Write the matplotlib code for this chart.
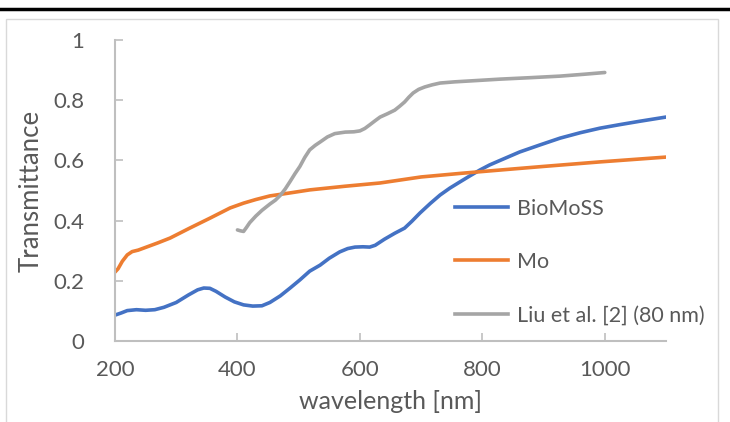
import matplotlib
matplotlib.use("Agg")
import matplotlib.pyplot as plt
from matplotlib.lines import Line2D
from matplotlib.patches import Rectangle

plt.rcParams['font.family'] = ['Lato', 'DejaVu Sans']

bio_wl = [200, 210, 220, 235, 250, 265, 280, 300, 320, 335, 345, 355, 365, 380, 395, 410, 425, 440, 453,
          470, 486, 502, 518, 535, 550, 567, 580, 592, 605, 616, 625, 640, 657, 673, 685, 698, 715, 731, 747,
          763, 780, 796, 812, 829, 861, 895, 927, 960, 992, 1025, 1057, 1100]
bio_t = [0.086, 0.093, 0.101, 0.104, 0.102, 0.104, 0.112, 0.128, 0.153, 0.170, 0.176, 0.175, 0.165, 0.146,
         0.130, 0.120, 0.116, 0.117, 0.128, 0.150, 0.176, 0.203, 0.232, 0.252, 0.275, 0.296, 0.307, 0.312,
         0.313, 0.312, 0.318, 0.338, 0.358, 0.375, 0.398, 0.425, 0.457, 0.485, 0.508, 0.528, 0.549, 0.568,
         0.585, 0.600, 0.628, 0.652, 0.674, 0.692, 0.707, 0.719, 0.730, 0.744]

mo_wl = [200, 205, 212, 220, 228, 238, 250, 270, 290, 322, 355, 388, 410, 430, 453, 486, 518, 575, 633,
         700, 765, 829, 900, 992, 1100]
mo_t = [0.229, 0.240, 0.265, 0.286, 0.297, 0.302, 0.311, 0.326, 0.342, 0.375, 0.408, 0.442, 0.458, 0.470,
        0.482, 0.492, 0.502, 0.514, 0.525, 0.545, 0.557, 0.568, 0.580, 0.595, 0.611]

liu_wl = [400, 405, 410, 415, 420, 430, 440, 453, 462, 470, 478, 486, 494, 502, 510, 518, 527, 535, 547,
          559, 576, 590, 600, 608, 616, 625, 633, 645, 657, 665, 673, 680, 687, 696, 706, 718, 731, 755, 780,
          829, 880, 927, 965, 1000]
liu_t = [0.369, 0.366, 0.364, 0.378, 0.393, 0.415, 0.434, 0.455, 0.468, 0.484, 0.505, 0.530, 0.556, 0.580,
         0.610, 0.635, 0.650, 0.661, 0.678, 0.689, 0.694, 0.695, 0.698, 0.706, 0.718, 0.732, 0.744, 0.755,
         0.767, 0.780, 0.794, 0.810, 0.824, 0.836, 0.844, 0.851, 0.857, 0.861, 0.864, 0.870, 0.875, 0.880,
         0.886, 0.892]

series_names = ["BioMoSS", "Mo", "Liu et al. [2] (80 nm)"]
colors = ["#4472C4", "#ED7D31", "#A5A5A5"]
x_ticks = [200, 400, 600, 800, 1000]
y_ticks = [0, 0.2, 0.4, 0.6, 0.8, 1]
y_labels = ["0", "0.2", "0.4", "0.6", "0.8", "1"]

W, H = 730, 422
fig = plt.figure(figsize=(W / 100, H / 100), dpi=100)
ax = fig.add_axes([115 / W, 1 - 341 / H, (666 - 115) / W, (341 - 40) / H])

for (wl, t), name, c in zip([(bio_wl, bio_t), (mo_wl, mo_t), (liu_wl, liu_t)], series_names, colors):
    ax.plot(wl, t, color=c, lw=2.6, solid_capstyle='round', solid_joinstyle='round', label=name)

ax.set_xlim(200, 1100)
ax.set_ylim(0, 1)
ax.set_xticks(x_ticks)
ax.set_yticks(y_ticks)
ax.set_yticklabels(y_labels)
grey = "#BFBFBF"
txt = "#595959"
for s in ['top', 'right']:
    ax.spines[s].set_visible(False)
for s in ['left', 'bottom']:
    ax.spines[s].set_color(grey)
    ax.spines[s].set_linewidth(1.5)
ax.tick_params(axis='both', direction='in', length=6, width=1.2, color=grey, labelcolor=txt, labelsize=16)
ax.tick_params(axis='x', pad=14)
ax.tick_params(axis='y', pad=22)
ax.set_xlabel("wavelength [nm]", fontsize=18, color=txt, labelpad=7)
ax.set_ylabel("Transmittance", fontsize=18.5, color=txt, labelpad=7)

handles = [Line2D([0], [0], color=c, lw=2.6) for c in colors]
leg = ax.legend(handles, series_names, loc='upper left', bbox_to_anchor=((446 - 115) / (666 - 115), (341 - 190) / 301),
                frameon=False, fontsize=15.5, labelcolor=txt, handlelength=2.5, handletextpad=0.4,
                labelspacing=1.55, borderaxespad=0)

fig.add_artist(Rectangle((5.5 / W, -0.1), (718 - 5.5) / W, 1.1 - 19 / H + 0.0, transform=fig.transFigure,
                         fill=False, edgecolor="#D9D9D9", lw=1.0))
fig.add_artist(Line2D([0, 1], [1 - 8.5 / H, 1 - 8.5 / H], transform=fig.transFigure, color='black', lw=2.5))

fig.savefig("out.png", dpi=100)
